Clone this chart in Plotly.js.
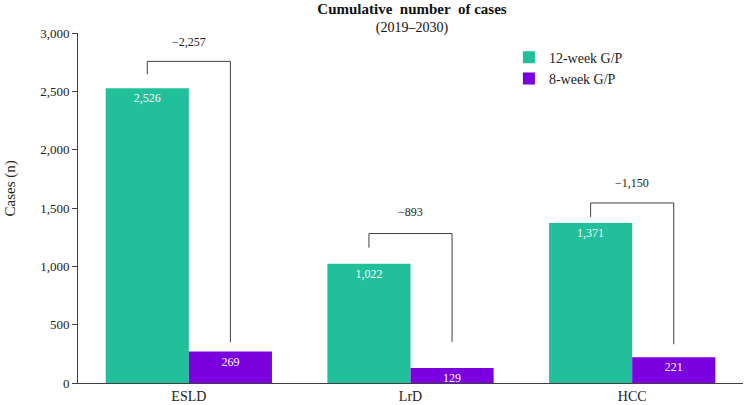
<!DOCTYPE html>
<html>
<head>
<meta charset="utf-8">
<script src="https://cdn.plot.ly/plotly-3.0.1.min.js"></script>
<style>html,body{margin:0;padding:0;background:#fff;}#chart{width:745px;height:405px;}</style>
</head>
<body>
<div id="chart"></div>
<script>
const categories = ['ESLD', 'LrD', 'HCC'];
const weeks12 = [2526, 1022, 1371];
const weeks8 = [269, 129, 221];
const diffLabels = ['\u22122,257', '\u2212893', '\u22121,150'];
// bracket levels (in data units)
const bracketLeftBottom = [2646, 1160, 1423];
const bracketTop = [2757, 1281, 1543];
const bracketRightBottom = [349, 352, 332];
const diffLabelY = [2920, 1463, 1718];

const FONT = 'Liberation Serif, Times New Roman, serif';
const teal = '#21C09A';
const purple = '#7A00E0';
const lineCol = '#404040';

const fmt = v => v.toLocaleString('en-US');

const traces = [
  {
    type: 'bar', name: '12-week G/P', x: categories, y: weeks12,
    marker: {color: teal},
    text: weeks12.map(fmt), textposition: 'inside', insidetextanchor: 'end',
    constraintext: 'none',
    textfont: {family: FONT, size: 12, color: '#ffffff'},
    hoverinfo: 'none'
  },
  {
    type: 'bar', name: '8-week G/P', x: categories, y: weeks8,
    marker: {color: purple},
    text: weeks8.map(fmt), textposition: 'inside', insidetextanchor: 'end',
    constraintext: 'none',
    textfont: {family: FONT, size: 12, color: '#ffffff'},
    hoverinfo: 'none'
  }
];

const off = 0.1875;
const shapes = [];
const annotations = [];
categories.forEach((c, i) => {
  shapes.push({
    type: 'path', xref: 'x', yref: 'y',
    path: `M ${i - off},${bracketLeftBottom[i]} L ${i - off},${bracketTop[i]} L ${i + off},${bracketTop[i]} L ${i + off},${bracketRightBottom[i]}`,
    line: {color: lineCol, width: 1}
  });
  annotations.push({
    xref: 'x', yref: 'y', x: i, y: diffLabelY[i], text: diffLabels[i],
    showarrow: false, font: {family: FONT, size: 12, color: '#222'}
  });
});
annotations.push({
  xref: 'paper', yref: 'paper', x: -0.118, y: 0.556, text: 'Cases (n)',
  textangle: -90, showarrow: false, font: {family: FONT, size: 15, color: '#222'}
});

const layout = {
  width: 745, height: 405,
  margin: {l: 78, r: 2, t: 33, b: 22, pad: 0},
  paper_bgcolor: '#fff', plot_bgcolor: '#fff',
  font: {family: FONT, size: 13, color: '#222'},
  title: {
    text: '<b><span style="font-size:15px">Cumulative  number  of cases</span></b><br>(2019\u20132030)',
    x: 0.553, xanchor: 'center', yref: 'container', y: 0.965, yanchor: 'top',
    font: {family: FONT, size: 14, color: '#111'}
  },
  barmode: 'group', bargap: 0.25, bargroupgap: 0,
  xaxis: {
    type: 'category', range: [-0.5, 2.5],
    showline: true, linecolor: lineCol, linewidth: 1,
    ticks: '', showgrid: false, zeroline: false,
    tickfont: {family: FONT, size: 14, color: '#222'}, fixedrange: true
  },
  yaxis: {
    range: [0, 3000], dtick: 500, tickformat: ',d',
    showline: true, linecolor: lineCol, linewidth: 1,
    ticks: 'outside', ticklen: 5, tickcolor: lineCol,
    showgrid: false, zeroline: false,
    tickfont: {family: FONT, size: 13, color: '#222'}, fixedrange: true
  },
  showlegend: true,
  legend: {
    x: 0.648, y: 0.975, xanchor: 'left', yanchor: 'top',
    bgcolor: 'rgba(0,0,0,0)', itemwidth: 30, tracegroupgap: 0,
    font: {family: FONT, size: 14, color: '#222'}
  },
  shapes: shapes,
  annotations: annotations
};

Plotly.newPlot('chart', traces, layout, {displayModeBar: false, staticPlot: true});
</script>
</body>
</html>
